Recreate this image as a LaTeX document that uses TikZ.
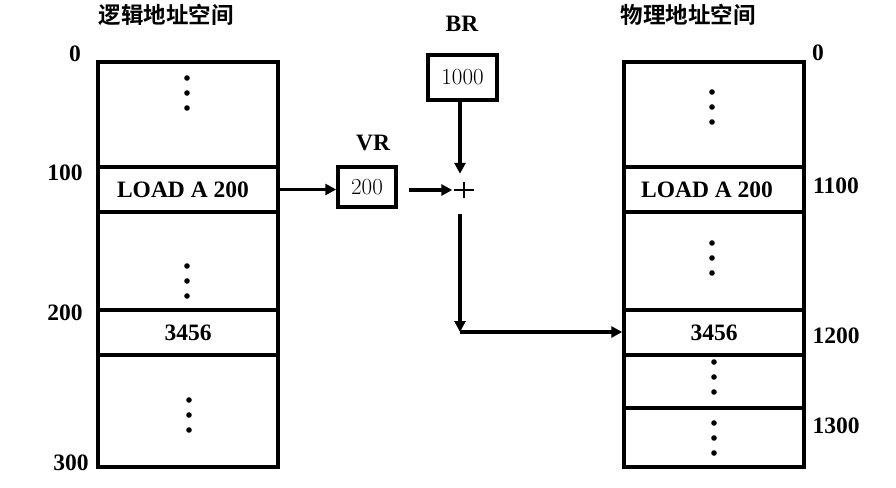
\documentclass[tikz,border=0pt]{standalone}
\usepackage{fontspec}
\setmainfont{Liberation Serif}
\newfontfamily\cjk{Noto Sans CJK SC Bold}
\newfontfamily\lmr{Latin Modern Roman}
\usetikzlibrary{arrows.meta}
\begin{document}
\begin{tikzpicture}[x=1pt,y=-1pt,
  txt/.style={font=\fontsize{23.5pt}{27pt}\selectfont\bfseries, inner sep=0pt},
  cjkt/.style={font=\fontsize{22.5pt}{26pt}\selectfont\cjk, inner sep=0pt},
  cell/.style={draw, line width=3.5pt, minimum width=180pt, inner sep=0pt, font=\fontsize{23.5pt}{27pt}\selectfont\bfseries},
  reg/.style={draw, line width=3.5pt, inner sep=0pt, font=\fontsize{23pt}{27pt}\selectfont\lmr},
  arr/.style={line width=3.2pt, -{Triangle[length=11pt,width=11pt]}},
  plus/.style={minimum width=19pt, minimum height=16pt, inner sep=0pt},
  dot/.style={fill=black}
]
\useasboundingbox (0,0) rectangle (896,487);
% titles
\node[cjkt] (tl) at (166,15) {逻辑地址空间};
\node[cjkt] (tr) at (688,15) {物理地址空间};
% left column
\node[cell, minimum height=105pt] (L1) at (188,114.5) {};
\node[cell, minimum height=45pt] (L2) at (188,189.5) {\hspace*{-10pt}LOAD A 200};
\node[cell, minimum height=98pt] (L3) at (188,261) {};
\node[cell, minimum height=45pt] (L4) at (188,332.5) {3456};
\node[cell, minimum height=112pt] (L5) at (188,411) {};
% right column
\node[cell, minimum height=105pt] (R1) at (714,114.5) {};
\node[cell, minimum height=45pt] (R2) at (714,189.5) {\hspace*{-14pt}LOAD A 200};
\node[cell, minimum height=98pt] (R3) at (714,261) {};
\node[cell, minimum height=45pt] (R4) at (714,332.5) {3456};
\node[cell, minimum height=53pt] (R5) at (714,381.5) {};
\node[cell, minimum height=59pt] (R6) at (714,437.5) {};
% dots
\foreach \x/\y in {187/78, 187/266, 189/400, 712/92, 712/243, 714/362, 714/423}{
  \foreach \d in {0,15,30}{\fill[dot] (\x,\y+\d) circle (2.8pt);}
}
% address labels
\node[txt] (a0) at (75,54) {0};
\node[txt] (a100) at (65,173) {100};
\node[txt] (a200) at (65,313) {200};
\node[txt] (a300) at (71,463) {300};
\node[txt] (b0) at (818,53) {0};
\node[txt] (b1100) at (836,186) {1100};
\node[txt] (b1200) at (836,336) {1200};
\node[txt] (b1300) at (836,426) {1300};
% registers
\node[txt] (brl) at (462,24) {BR};
\node[reg, minimum width=69pt, minimum height=45pt] (BR) at (462.5,77.5) {1000};
\node[txt] (vrl) at (373,143) {VR};
\node[reg, minimum width=58pt, minimum height=40pt] (VR) at (367,187) {200};
\node[plus] (P) at (464,190) {};
\draw[line width=2.2pt] (P.west) -- (P.east) (P.north) -- (P.south);
\coordinate (C) at (460,332);
% connectors (y axis points down: a positive yshift moves up on the page)
\draw[arr] (L2.east) -- (VR.west |- L2.east);
\draw[arr, shorten <=11pt] (VR.east |- P.west) -- ([xshift=-2pt]P.west);
\draw[arr] (BR.south -| C) -- ([yshift=8pt]P.north -| C);
\draw[arr] ([yshift=-16pt]P.south -| C) -- (C);
\draw[arr] (C) -- (C -| R4.west);
\end{tikzpicture}
\end{document}
